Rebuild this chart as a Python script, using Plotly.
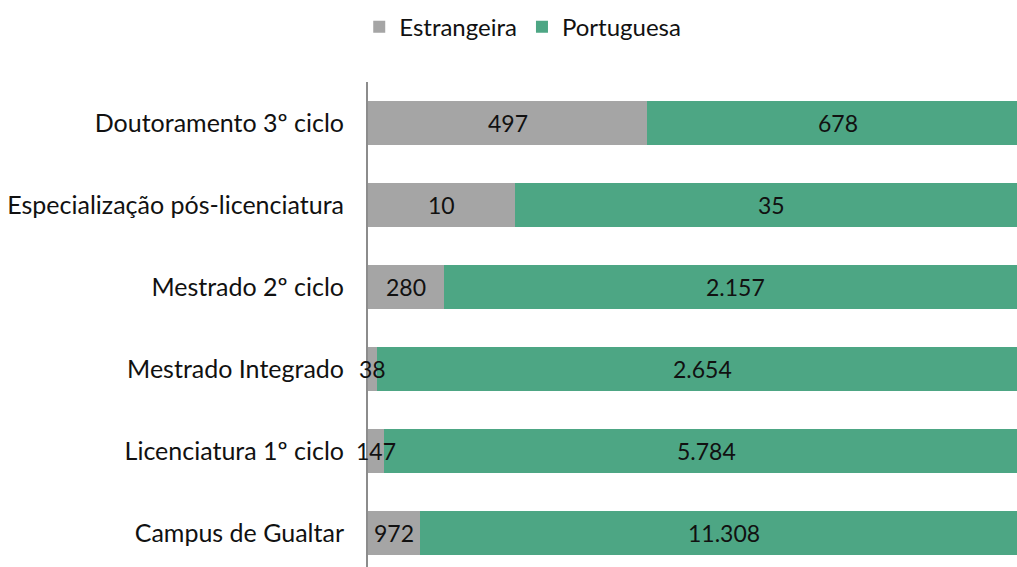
import plotly.graph_objects as go

categories = ["Doutoramento 3º ciclo", "Especialização pós-licenciatura", "Mestrado 2º ciclo",
              "Mestrado Integrado", "Licenciatura 1º ciclo", "Campus de Gualtar"]
estrangeira = [497, 10, 280, 38, 147, 972]
portuguesa = [678, 35, 2157, 2654, 5784, 11308]

GREY = "#A5A5A5"
GREEN = "#4DA684"
FONT = "Lato"
TXT = "#111111"

tot = [a + b for a, b in zip(estrangeira, portuguesa)]
sh_e = [a / t for a, t in zip(estrangeira, tot)]
sh_p = [b / t for b, t in zip(portuguesa, tot)]

def fmt(v):
    return f"{v:,}".replace(",", ".")

fig = go.Figure()
fig.add_trace(go.Bar(y=categories, x=sh_e, orientation="h", name="Estrangeira",
                     marker=dict(color=GREY, line=dict(width=0)), hoverinfo="skip"))
fig.add_trace(go.Bar(y=categories, x=sh_p, orientation="h", name="Portuguesa",
                     marker=dict(color=GREEN, line=dict(width=0)), hoverinfo="skip"))

for c, e, p, ve, vp in zip(categories, sh_e, sh_p, estrangeira, portuguesa):
    fig.add_annotation(x=e / 2, y=c, text=fmt(ve), showarrow=False,
                       font=dict(family=FONT, size=23, color=TXT))
    fig.add_annotation(x=e + p / 2, y=c, text=fmt(vp), showarrow=False,
                       font=dict(family=FONT, size=23, color=TXT))

W, H = 1017, 567
L, T = 368, 82
fig.update_layout(
    barmode="stack",
    bargap=0.47,
    width=W, height=H,
    margin=dict(l=L, r=0, t=T, b=0, pad=0),
    paper_bgcolor="white", plot_bgcolor="white",
    font=dict(family=FONT, size=24, color=TXT),
    showlegend=True,
    legend=dict(orientation="h", xref="container", yref="container",
                x=0.514, xanchor="center", y=0.992, yanchor="top",
                font=dict(family=FONT, size=24, color=TXT),
                traceorder="normal", itemclick=False),
)
fig.update_xaxes(range=[0, (W - L) / 660], visible=False, fixedrange=True)
fig.update_yaxes(categoryorder="array", categoryarray=categories[::-1],
                 range=[5.5 - (H - T) / 82, 5.5], showline=True, linecolor="#8c8c8c",
                 linewidth=2, showgrid=False, ticks="", ticklabelstandoff=17,
                 tickfont=dict(family=FONT, size=25, color=TXT), fixedrange=True)

fig.write_html(
    "out.html",
    config={"responsive": False, "displayModeBar": False},
    post_script="document.body.style.margin='0px';document.body.style.overflow='hidden';"
                "Plotly.relayout('{plot_id}', {width: %d, height: %d});" % (W, H),
)
